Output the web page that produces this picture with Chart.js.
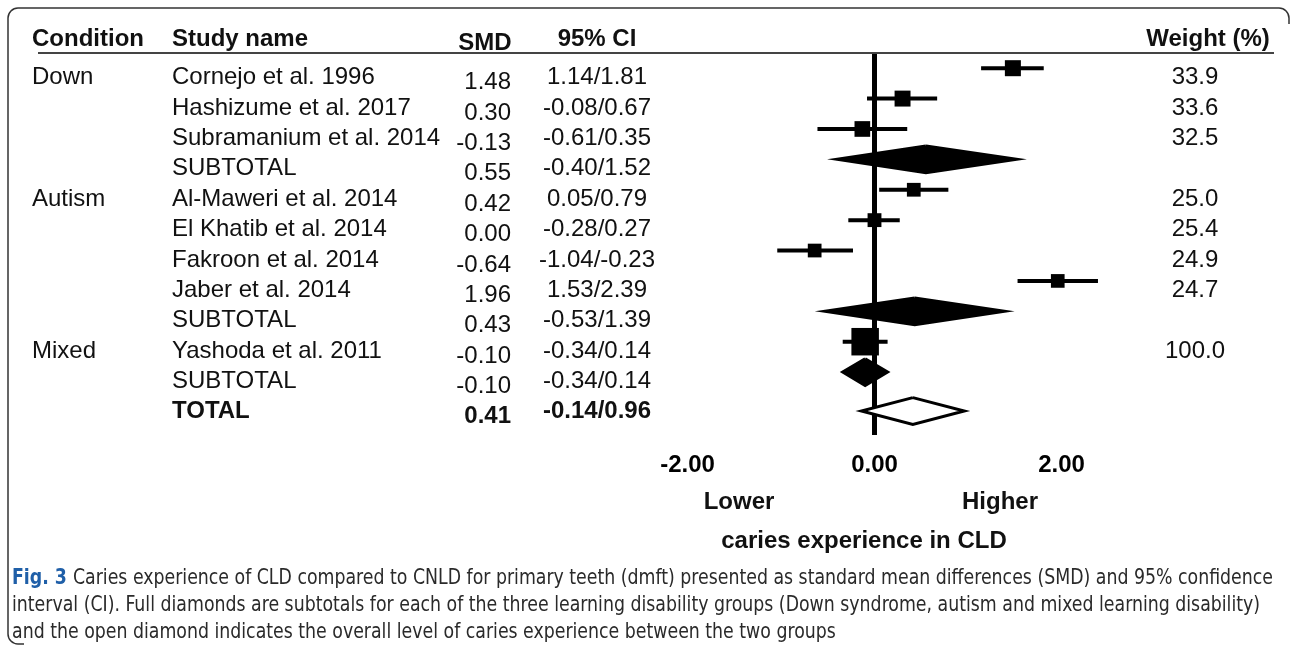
<!DOCTYPE html>
<html>
<head>
<meta charset="utf-8">
<script src="https://cdn.jsdelivr.net/npm/chart.js@4.4.1/dist/chart.umd.min.js"></script>
<style>
  html, body { margin: 0; padding: 0; background: #fff; }
  #wrap { width: 1292px; height: 645px; }
</style>
</head>
<body>
<div id="wrap"><canvas id="forest" width="1292" height="645"></canvas></div>
<script>
const conditions = ["Down", "", "", "", "Autism", "", "", "", "", "Mixed", "", ""];
const studies = [
  "Cornejo et al. 1996", "Hashizume et al. 2017", "Subramanium et al. 2014", "SUBTOTAL",
  "Al-Maweri et al. 2014", "El Khatib et al. 2014", "Fakroon et al. 2014", "Jaber et al. 2014", "SUBTOTAL",
  "Yashoda et al. 2011", "SUBTOTAL", "TOTAL",
];
const rowType = ["study", "study", "study", "subtotal", "study", "study", "study", "study", "subtotal", "study", "subtotal", "total"];
const smd = [1.48, 0.30, -0.13, 0.55, 0.42, 0.00, -0.64, 1.96, 0.43, -0.10, -0.10, 0.41];
const ciLow = [1.14, -0.08, -0.61, -0.40, 0.05, -0.28, -1.04, 1.53, -0.53, -0.34, -0.34, -0.14];
const ciHigh = [1.81, 0.67, 0.35, 1.52, 0.79, 0.27, -0.23, 2.39, 1.39, 0.14, 0.14, 0.96];
const weights = [33.9, 33.6, 32.5, null, 25.0, 25.4, 24.9, 24.7, null, 100.0, null, null];
const xTicks = [-2, 0, 2];

const FONT = '"Liberation Sans", Arial, Helvetica, sans-serif';
const CAPTION_FONT = '"Liberation Sans Narrow", "DejaVu Sans Condensed", "Liberation Sans", sans-serif';
const TOTAL_DROP = 0.28;   // the overall diamond sits a bit below its text row
const DIAMOND_HALF = 0.44; // half height of a diamond, in rows
const INK = "#111";

const rowY = (i) => (rowType[i] === "total" ? i + TOTAL_DROP : i);

// CI whiskers, broken between studies
const whiskers = [];
rowType.forEach((t, i) => {
  if (t !== "study") return;
  whiskers.push({ x: ciLow[i], y: rowY(i) }, { x: ciHigh[i], y: rowY(i) }, { x: ciHigh[i], y: null });
});

const squares = [];
const squareRadius = [];
rowType.forEach((t, i) => {
  if (t !== "study") return;
  squares.push({ x: smd[i], y: rowY(i) });
  // square side grows with sqrt(weight); rect radius -> side is r*sqrt(2)
  squareRadius.push((2.75 * Math.sqrt(weights[i])) / Math.SQRT2);
});

const diamonds = [];
rowType.forEach((t, i) => {
  if (t === "study") return;
  const y = rowY(i);
  diamonds.push({
    type: "line",
    data: [
      { x: smd[i], y: y - DIAMOND_HALF },
      { x: ciHigh[i], y },
      { x: smd[i], y: y + DIAMOND_HALF },
      { x: ciLow[i], y },
      { x: smd[i], y: y - DIAMOND_HALF },
    ],
    borderColor: "#000",
    backgroundColor: t === "total" ? "#fff" : "#000",
    borderWidth: 3,
    borderJoinStyle: "miter",
    fill: "shape",
    tension: 0,
    pointRadius: 0,
    clip: false,
  });
});

const tablePlugin = {
  id: "forestTable",
  afterDraw(chart) {
    const ctx = chart.ctx;
    const ys = chart.scales.y;
    ctx.save();

    // figure frame (right and bottom edges are cropped in the source)
    ctx.strokeStyle = "#333";
    ctx.lineWidth = 1.5;
    ctx.beginPath();
    ctx.moveTo(1289, 24);
    ctx.arcTo(1289, 8, 1279, 8, 10);
    ctx.lineTo(18, 8);
    ctx.arcTo(8, 8, 8, 18, 10);
    ctx.lineTo(8, 634);
    ctx.arcTo(8, 644, 18, 644, 10);
    ctx.lineTo(24, 644);
    ctx.stroke();

    // header
    ctx.fillStyle = INK;
    ctx.font = "bold 24px " + FONT;
    ctx.textBaseline = "alphabetic";
    ctx.textAlign = "left";
    ctx.fillText("Condition", 32, 46);
    ctx.fillText("Study name", 172, 46);
    ctx.textAlign = "center";
    ctx.fillText("SMD", 485, 50);
    ctx.fillText("95% CI", 597, 46);
    ctx.fillText("Weight (%)", 1208, 46);

    ctx.strokeStyle = "#444";
    ctx.lineWidth = 2;
    ctx.beginPath();
    ctx.moveTo(38, 53);
    ctx.lineTo(1274, 53);
    ctx.stroke();

    // rows
    studies.forEach((name, i) => {
      const py = ys.getPixelForValue(i);
      const bold = rowType[i] === "total" ? "bold " : "";
      ctx.font = "24px " + FONT;
      ctx.textAlign = "left";
      if (conditions[i]) ctx.fillText(conditions[i], 32, py + 16);
      ctx.font = bold + "24px " + FONT;
      ctx.fillText(name, 172, py + 16);
      ctx.textAlign = "right";
      ctx.fillText(smd[i].toFixed(2), 511, py + 21);
      ctx.textAlign = "center";
      ctx.fillText(ciLow[i].toFixed(2) + "/" + ciHigh[i].toFixed(2), 597, py + 16);
      if (weights[i] != null) ctx.fillText(weights[i].toFixed(1), 1195, py + 16);
    });

    // direction labels and axis title
    ctx.font = "bold 24px " + FONT;
    ctx.textAlign = "center";
    ctx.fillText("Lower", 739, 509);
    ctx.fillText("Higher", 1000, 509);
    ctx.fillText("caries experience in CLD", 864, 548);

    // caption, condensed to the source line width
    const lines = [
      "Caries experience of CLD compared to CNLD for primary teeth (dmft) presented as standard mean differences (SMD) and 95% confidence",
      "interval (CI). Full diamonds are subtotals for each of the three learning disability groups (Down syndrome, autism and mixed learning disability)",
      "and the open diamond indicates the overall level of caries experience between the two groups",
    ];
    ctx.textAlign = "left";
    ctx.font = "bold 22px " + CAPTION_FONT;
    const figW = ctx.measureText("Fig. 3 ").width;
    ctx.font = "22px " + CAPTION_FONT;
    const k = (1273 - 12) / (figW + ctx.measureText(lines[0]).width);
    ctx.translate(12, 0);
    ctx.scale(k, 1);
    ctx.font = "bold 22px " + CAPTION_FONT;
    ctx.fillStyle = "#1f5fa8";
    ctx.fillText("Fig. 3", 0, 584);
    ctx.fillStyle = "#2a2a2a";
    ctx.font = "22px " + CAPTION_FONT;
    ctx.fillText(lines[0], figW, 584);
    ctx.fillText(lines[1], 0, 611);
    ctx.fillText(lines[2], 0, 638);

    ctx.restore();
  },
};

new Chart(document.getElementById("forest"), {
  type: "scatter",
  data: {
    datasets: [
      {
        type: "line",
        label: "95% CI",
        data: whiskers,
        borderColor: "#000",
        borderWidth: 4,
        borderCapStyle: "butt",
        pointRadius: 0,
        spanGaps: false,
        tension: 0,
        clip: false,
      },
      {
        label: "SMD",
        data: squares,
        pointStyle: "rect",
        pointRadius: squareRadius,
        backgroundColor: "#000",
        borderWidth: 0,
        clip: false,
      },
      ...diamonds,
    ],
  },
  options: {
    responsive: false,
    animation: false,
    devicePixelRatio: 1,
    layout: {
      autoPadding: false,
      padding: { left: 668.8, right: 155.7, top: 53, bottom: 170 },
    },
    plugins: {
      legend: { display: false },
      tooltip: { enabled: false },
    },
    scales: {
      x: {
        type: "linear",
        min: -2.2,
        max: 2.8,
        border: { display: false },
        grid: {
          drawTicks: false,
          lineWidth: 5,
          color: (c) => (c.tick && c.tick.value === 0 ? "#000" : "rgba(0,0,0,0)"),
        },
        afterBuildTicks(axis) {
          axis.ticks = xTicks.map((v) => ({ value: v }));
        },
        afterFit(axis) {
          axis.height = 40;
        },
        ticks: {
          padding: 16,
          color: "#000",
          font: { family: FONT, size: 24, weight: "bold" },
          maxRotation: 0,
          callback: (v) => Number(v).toFixed(2),
        },
      },
      y: {
        type: "linear",
        display: false,
        reverse: true,
        min: -0.5,
        max: 12.07,
      },
    },
  },
  plugins: [tablePlugin],
});
</script>
</body>
</html>
